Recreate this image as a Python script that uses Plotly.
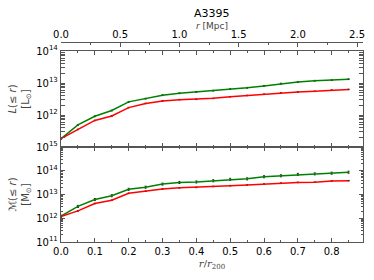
import plotly.graph_objects as go

r_frac = [0.0, 0.05, 0.1, 0.15, 0.2, 0.25, 0.3, 0.35, 0.4, 0.45, 0.5, 0.55, 0.6, 0.65, 0.7, 0.75, 0.8, 0.85]
# log10 of luminosity (top panel)
L_green = [11.26, 11.69, 11.96, 12.14, 12.41, 12.51, 12.62, 12.68, 12.72, 12.76, 12.81, 12.85, 12.91, 12.98, 13.03, 13.07, 13.09, 13.12]
L_red = [11.26, 11.55, 11.83, 11.97, 12.23, 12.36, 12.44, 12.48, 12.49, 12.52, 12.57, 12.61, 12.65, 12.69, 12.72, 12.74, 12.78, 12.80]
# log10 of mass (bottom panel)
M_green = [12.09, 12.50, 12.79, 12.95, 13.22, 13.31, 13.44, 13.51, 13.53, 13.58, 13.64, 13.66, 13.75, 13.79, 13.85, 13.87, 13.90, 13.94]
M_red = [12.07, 12.31, 12.62, 12.76, 13.05, 13.14, 13.23, 13.28, 13.30, 13.34, 13.37, 13.40, 13.44, 13.48, 13.51, 13.52, 13.57, 13.58]
r200_mpc = 2.857
top_ticks_mpc = [0.0, 0.5, 1.0, 1.5, 2.0, 2.5]
top_exps = [12, 13, 14]
bot_exps = [11, 12, 13, 14, 15]

L_g = [10 ** v for v in L_green]
L_r = [10 ** v for v in L_red]
M_g = [10 ** v for v in M_green]
M_r = [10 ** v for v in M_red]

GREEN = "#008000"
RED = "#ff0000"
AX = "#555555"

fig = go.Figure()

def err(vals, frac):
    return [v * frac for v in vals]

def add(xs, ys, color, efrac, xa, ya):
    fig.add_trace(go.Scatter(x=xs, y=ys, mode="lines", line=dict(color=color, width=1.5),
                             error_y=dict(type="data", array=err(ys, efrac), color="black", thickness=0.8, width=1),
                             xaxis=xa, yaxis=ya, hoverinfo="skip"))

add(r_frac, L_g, GREEN, 0.03, "x", "y")
add(r_frac, L_r, RED, 0.02, "x", "y")
add(r_frac, M_g, GREEN, 0.10, "x2", "y2")
add(r_frac, M_r, RED, 0.03, "x2", "y2")
# invisible trace for top Mpc axis
fig.add_trace(go.Scatter(x=[0, 2.5], y=[1e12, 1e12], mode="lines", line=dict(width=0),
                         opacity=0, showlegend=False, hoverinfo="skip", xaxis="x3", yaxis="y"))

def minor_vals(lo, hi):
    out = []
    for d in range(lo, hi):
        for k in range(2, 10):
            out.append(k * 10 ** d)
    return out

xmax = 0.8926
common_x = dict(range=[0, xmax], showline=True, linecolor=AX, linewidth=1.2, mirror="allticks",
                ticks="inside", ticklen=4, tickcolor=AX, tickwidth=1, dtick=0.1, tick0=0, tickformat=".1f",
                showgrid=False, zeroline=False, automargin=False,
                minor=dict(ticks="inside", ticklen=2, dtick=0.05, tick0=0, tickcolor=AX, showgrid=False),
                tickfont=dict(size=10, color="black"))
common_y = dict(type="log", showline=True, linecolor=AX, linewidth=1.2, mirror="allticks",
                ticks="inside", ticklen=4, tickcolor=AX, tickwidth=1, showgrid=False, zeroline=False,
                automargin=False, tickfont=dict(size=10, color="black"))

fig.update_layout(
    template="none",
    width=374, height=280,
    margin=dict(l=61, r=11, t=42, b=38),
    paper_bgcolor="white", plot_bgcolor="white",
    showlegend=False,
    font=dict(family="DejaVu Sans", size=10, color="black"),
    xaxis=dict(**common_x, domain=[0, 1], anchor="y", showticklabels=False),
    xaxis2=dict(**common_x, domain=[0, 1], anchor="y2",
                title=dict(text="<i>r</i>/<i>r</i><sub>200</sub>", font=dict(size=10, family="DejaVu Serif", color="#444"), standoff=3)),
    xaxis3=dict(range=[0, xmax * r200_mpc], overlaying="x", side="top", anchor="free", position=1,
                showline=True, linecolor=AX, linewidth=1.2, ticks="inside", ticklen=4, tickcolor=AX,
                tickvals=top_ticks_mpc, ticktext=["%.1f" % v for v in top_ticks_mpc], automargin=False,
                minor=dict(ticks="inside", ticklen=2, dtick=0.25, tick0=0, tickcolor=AX, showgrid=False),
                showgrid=False, zeroline=False, tickfont=dict(size=10, color="black")),
    yaxis=dict(**common_y, domain=[0.475, 0.955], anchor="x", range=[11, 14],
               tickvals=[10 ** e for e in top_exps], ticktext=["10<sup>%d</sup>" % e for e in top_exps],
               minor=dict(ticks="inside", ticklen=2, tickcolor=AX, showgrid=False, tickvals=minor_vals(11, 14)),
               title=dict(text="<i>L</i>(≤ <i>r</i>)<br>[L<sub>⊙</sub>]", font=dict(size=10, color="#444"), standoff=4)),
    yaxis2=dict(**common_y, domain=[0, 0.475], anchor="x2", range=[11, 15],
                tickvals=[10 ** e for e in bot_exps], ticktext=["10<sup>%d</sup>" % e for e in bot_exps],
                minor=dict(ticks="inside", ticklen=2, tickcolor=AX, showgrid=False, tickvals=minor_vals(11, 15)),
                title=dict(text="ℳ(≤ <i>r</i>)<br>[M<sub>⊙</sub>]", font=dict(size=10, color="#444"), standoff=4)),
    annotations=[
        dict(text="A3395", x=0.5, y=1.143, xref="paper", yref="paper", xanchor="center", yanchor="middle",
             showarrow=False, font=dict(size=11, color="black")),
        dict(text="<i>r</i> [Mpc]", x=0.5, y=1.08, xref="paper", yref="paper", xanchor="center", yanchor="middle",
             showarrow=False, font=dict(size=9, color="#444")),
    ],
)

fig.write_html("out.html", config={"displayModeBar": False, "staticPlot": True},
               post_script="document.body.style.margin='0';document.body.style.overflow='hidden';")
